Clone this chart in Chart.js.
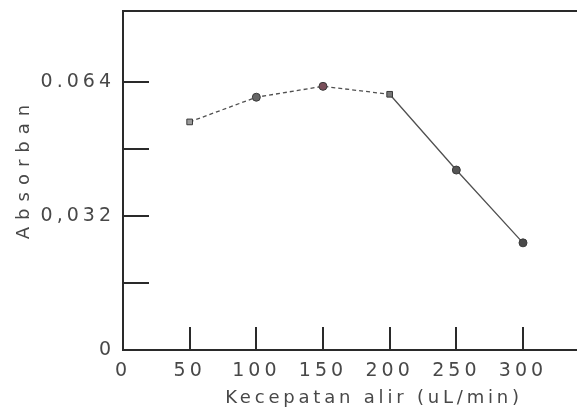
<!DOCTYPE html>
<html><head><meta charset="utf-8">
<script src="https://cdn.jsdelivr.net/npm/chart.js@4"></script>
<style>html,body{margin:0;padding:0;background:#fff;overflow:hidden}</style>
</head><body>
<canvas id="c" width="577" height="413"></canvas>
<script>
const flowRates = [50, 100, 150, 200, 250, 300];
const absorbance = [0.0545, 0.0604, 0.0630, 0.0611, 0.0430, 0.0256];
const xTickValues = [0, 50, 100, 150, 200, 250, 300];
const yTickValues = [0, 0.016, 0.032, 0.048, 0.064];
const yTickLabels = ['0', '', '0,032', '', '0.064'];
const xTitle = 'Kecepatan alir (uL/min)';
const yTitle = 'Absorban';

const TEXT = '#484848';
const AXIS = '#2a2a2a';
const FAMILY = 'DejaVu Sans';

const spacingPlugin = {
  id: 'spacing',
  beforeDraw(chart) {
    const cfg = {
      x: {labels: '4px', title: '3.8px', dx: 24, dy: 0},
      y: {labels: '4px', title: '7px', dx: 0, dy: -12}
    };
    for (const id of ['x', 'y']) {
      const s = chart.scales[id];
      if (!s || s._wrapped) continue;
      s._wrapped = true;
      const c = cfg[id];
      const origT = s.drawTitle, origL = s.drawLabels;
      s.drawTitle = function (...a) {
        const ctx = this.ctx; ctx.save();
        ctx.letterSpacing = c.title; ctx.translate(c.dx, c.dy);
        origT.apply(this, a); ctx.restore();
      };
      s.drawLabels = function (...a) {
        const ctx = this.ctx; ctx.save();
        ctx.letterSpacing = c.labels;
        origL.apply(this, a); ctx.restore();
      };
    }
  }
};

const innerTicks = {
  id: 'innerTicks',
  afterDraw(chart) {
    const {ctx, chartArea: a, scales: {x, y}} = chart;
    ctx.save();
    ctx.strokeStyle = AXIS; ctx.lineWidth = 2;
    ctx.beginPath();
    yTickValues.filter(v => v > 0).forEach(v => {
      const py = Math.round(y.getPixelForValue(v));
      ctx.moveTo(a.left, py); ctx.lineTo(a.left + 26, py);
    });
    xTickValues.filter(v => v > 0).forEach(v => {
      const px = Math.round(x.getPixelForValue(v));
      ctx.moveTo(px, a.bottom); ctx.lineTo(px, a.bottom - 23);
    });
    ctx.stroke();
    ctx.restore();
  }
};

const noPad = s => { s.paddingTop = 0; s.paddingBottom = 0; s.paddingLeft = 0; s.paddingRight = 0; };

new Chart(document.getElementById('c'), {
  type: 'line',
  data: {
    datasets: [{
      data: flowRates.map((r, i) => ({x: r, y: absorbance[i]})),
      borderColor: '#505050',
      borderWidth: 1.3,
      segment: {borderDash: c => c.p1DataIndex <= 3 ? [4, 3] : undefined},
      pointRadius: 4,
      pointStyle: ['rect', 'circle', 'circle', 'rect', 'circle', 'circle'],
      pointBackgroundColor: ['#9a9a9a', '#666', '#7a4f5a', '#777', '#555', '#4a4a4a'],
      pointBorderColor: '#3a3a3a',
      pointBorderWidth: 1
    }]
  },
  options: {
    responsive: false,
    animation: false,
    layout: {autoPadding: false, padding: {top: 11, right: 0, bottom: 0, left: 0}},
    plugins: {legend: {display: false}, tooltip: {enabled: false}},
    scales: {
      x: {
        type: 'linear', position: 'bottom', min: 0, max: 340.5,
        afterBuildTicks: s => { s.ticks = xTickValues.map(v => ({value: v})); },
        afterFit: s => { s.height = 63; noPad(s); },
        grid: {drawOnChartArea: false, drawTicks: false},
        border: {color: AXIS, width: 2},
        ticks: {padding: 10, color: TEXT, font: {family: FAMILY, size: 19}, maxRotation: 0, autoSkip: false, callback: v => String(v)},
        title: {display: true, text: xTitle, color: TEXT, font: {family: FAMILY, size: 18}, padding: {top: 0, bottom: 4}}
      },
      xTop: {
        type: 'linear', position: 'top', min: 0, max: 340.5,
        afterFit: s => { s.height = 0; noPad(s); },
        ticks: {display: false},
        grid: {drawOnChartArea: false, drawTicks: false},
        border: {color: AXIS, width: 2}
      },
      y: {
        min: 0, max: 0.081,
        afterBuildTicks: s => { s.ticks = yTickValues.map(v => ({value: v})); },
        afterFit: s => { s.width = 123; noPad(s); },
        grid: {drawOnChartArea: false, drawTicks: false},
        border: {color: AXIS, width: 2},
        ticks: {padding: 8, color: TEXT, font: {family: FAMILY, size: 19}, callback: (v, i) => yTickLabels[i]},
        title: {display: true, text: yTitle, color: TEXT, font: {family: FAMILY, size: 18}, padding: {top: 14, bottom: 0}}
      }
    }
  },
  plugins: [spacingPlugin, innerTicks]
});
</script>
</body></html>
